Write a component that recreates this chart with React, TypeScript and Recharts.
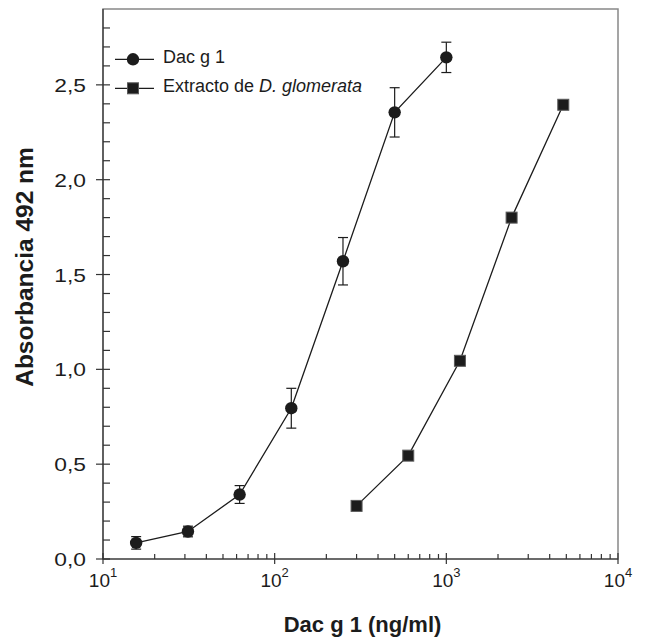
import React from "react";
import {
  ScatterChart,
  Scatter,
  XAxis,
  YAxis,
  ErrorBar,
  ReferenceArea,
  Legend,
} from "recharts";

// Dac g 1 (purified allergen)
const DAC_CONC = [15.6, 31.25, 62.5, 125, 250, 500, 1000];
const DAC_ABS = [0.085, 0.145, 0.34, 0.795, 1.57, 2.355, 2.645];
const DAC_ERR = [0.033, 0.028, 0.047, 0.105, 0.125, 0.13, 0.08];

// Extracto de D. glomerata
const EXT_CONC = [300, 600, 1200, 2400, 4800];
const EXT_ABS = [0.28, 0.545, 1.045, 1.8, 2.395];

const X_TICKS = [
  10, 20, 30, 40, 50, 60, 70, 80, 90,
  100, 200, 300, 400, 500, 600, 700, 800, 900,
  1000, 2000, 3000, 4000, 5000, 6000, 7000, 8000, 9000,
  10000,
];
const Y_TICKS = [
  0, 0.1, 0.2, 0.3, 0.4, 0.5, 0.6, 0.7, 0.8, 0.9,
  1, 1.1, 1.2, 1.3, 1.4, 1.5, 1.6, 1.7, 1.8, 1.9,
  2, 2.1, 2.2, 2.3, 2.4, 2.5, 2.6, 2.7, 2.8,
];

const FONT = "'Liberation Sans', Arial, sans-serif";
const INK = "#1c1c1c";
const AXIS = "#333";

const dacData = DAC_CONC.map((x, i) => ({ x, y: DAC_ABS[i], err: DAC_ERR[i] }));
const extData = EXT_CONC.map((x, i) => ({ x, y: EXT_ABS[i] }));

function CircleDot(props: any) {
  return <circle cx={props.cx} cy={props.cy} r={6.2} fill={INK} />;
}

function SquareDot(props: any) {
  return (
    <rect
      x={props.cx - 5.5}
      y={props.cy - 5.5}
      width={11}
      height={11}
      fill={INK}
      stroke="#5a5a5a"
      strokeWidth={1}
    />
  );
}

function YTick(props: any) {
  const { x, y, payload } = props;
  const v = payload.value;
  const major = Math.abs(v * 2 - Math.round(v * 2)) < 1e-6;
  return (
    <g>
      <line x1={major ? x - 7 : x} x2={x + 7} y1={y} y2={y} stroke={AXIS} strokeWidth={1.2} />
      {major && (
        <text
          transform={`translate(${x - 17},${y + 7}) scale(1.2,1)`}
          textAnchor="end"
          fontSize={19}
          fontFamily={FONT}
          fill={INK}
        >
          {v.toFixed(1).replace(".", ",")}
        </text>
      )}
    </g>
  );
}

function XTick(props: any) {
  const { x, y, payload } = props;
  const e = Math.log10(payload.value);
  const major = Math.abs(e - Math.round(e)) < 1e-9;
  return (
    <g>
      <line x1={x} x2={x} y1={y - (major ? 6 : 5)} y2={y + (major ? 5 : 0)} stroke={AXIS} strokeWidth={1.2} />
      {major && (
        <text x={x} y={y + 28} textAnchor="middle" fontSize={19} fontFamily={FONT} fill={INK}>
          10
          <tspan dy={-10} fontSize={13}>
            {Math.round(e)}
          </tspan>
        </text>
      )}
    </g>
  );
}

function LegendBox() {
  return (
    <svg width={400} height={110} style={{ position: "absolute", left: 0, top: 0 }}>
      <line x1={115} x2={154} y1={59.3} y2={59.3} stroke={INK} strokeWidth={1.3} />
      <circle cx={133} cy={59.3} r={6.2} fill={INK} />
      <text x={163} y={63} fontSize={18} fontFamily={FONT} fill={INK}>
        Dac g 1
      </text>
      <line x1={115} x2={154} y1={88.3} y2={88.3} stroke={INK} strokeWidth={1.3} />
      <rect x={127.5} y={82.8} width={11} height={11} fill={INK} stroke="#5a5a5a" strokeWidth={1} />
      <text x={163} y={92} fontSize={18} fontFamily={FONT} fill={INK}>
        Extracto de <tspan fontStyle="italic">D. glomerata</tspan>
      </text>
    </svg>
  );
}

function YTitle(props: any) {
  const { viewBox } = props;
  const tx = viewBox.x + 33;
  const ty = 267;
  return (
    <text
      x={tx}
      y={ty}
      transform={`rotate(-90, ${tx}, ${ty})`}
      textAnchor="middle"
      fontSize={24.5}
      fontWeight="bold"
      fontFamily={FONT}
      fill={INK}
    >
      Absorbancia 492 nm
    </text>
  );
}

function XTitle(props: any) {
  const { viewBox } = props;
  return (
    <text
      x={viewBox.x + viewBox.width / 2 + 2}
      y={632}
      textAnchor="middle"
      fontSize={22}
      fontWeight="bold"
      fontFamily={FONT}
      fill={INK}
    >
      Dac g 1 (ng/ml)
    </text>
  );
}

export default function App() {
  return (
    <div style={{ position: "absolute", left: 0, top: 0, width: 651, height: 639, background: "#fff" }}>
      <ScatterChart width={651} height={639} margin={{ top: 9, right: 33, bottom: 0, left: 0 }}>
        <ReferenceArea
          x1={10}
          x2={10000}
          y1={0}
          y2={2.9}
          fill="none"
          stroke="#888"
          strokeWidth={1.5}
        />
        <XAxis
          dataKey="x"
          type="number"
          scale="log"
          domain={[10, 10000]}
          allowDataOverflow
          ticks={X_TICKS}
          interval={0}
          tickSize={0}
          tickMargin={0}
          tickLine={false}
          tick={<XTick />}
          axisLine={{ stroke: AXIS, strokeWidth: 1.2 }}
          height={80}
          label={<XTitle />}
        />
        <YAxis
          dataKey="y"
          type="number"
          domain={[0, 2.9]}
          allowDataOverflow
          ticks={Y_TICKS}
          interval={0}
          tickSize={0}
          tickMargin={0}
          tickLine={false}
          tick={<YTick />}
          axisLine={{ stroke: AXIS, strokeWidth: 1.2 }}
          width={103}
          label={<YTitle />}
        />
        <Legend
          layout="vertical"
          align="center"
          verticalAlign="middle"
          wrapperStyle={{ position: "absolute", left: 0, top: 0, width: 400, height: 110 }}
          content={() => <LegendBox />}
        />
        <Scatter
          name="Dac g 1"
          data={dacData}
          line={{ stroke: INK, strokeWidth: 1.3 }}
          lineType="joint"
          shape={<CircleDot />}
          isAnimationActive={false}
        >
          <ErrorBar dataKey="err" direction="y" width={5} stroke={INK} strokeWidth={1.2} />
        </Scatter>
        <Scatter
          name="Extracto de D. glomerata"
          data={extData}
          line={{ stroke: INK, strokeWidth: 1.3 }}
          lineType="joint"
          shape={<SquareDot />}
          isAnimationActive={false}
        />
      </ScatterChart>
    </div>
  );
}
